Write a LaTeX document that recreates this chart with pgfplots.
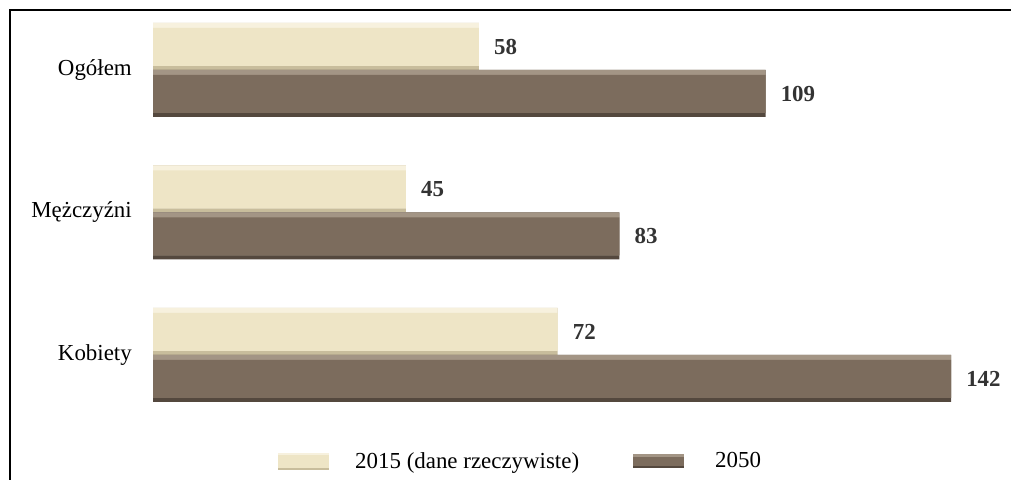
\documentclass[border=0pt]{standalone}
\usepackage{pgfplots}
\pgfplotsset{compat=1.18}
\usepackage{fontspec}
\setmainfont{Liberation Serif}

\definecolor{lightTop}{RGB}{247,241,222}
\definecolor{lightMid}{RGB}{238,229,198}
\definecolor{lightBot}{RGB}{200,189,156}
\definecolor{darkTop}{RGB}{163,149,133}
\definecolor{darkMid}{RGB}{124,108,93}
\definecolor{darkBot}{RGB}{84,72,62}

\newcommand{\bigfont}{\fontsize{23}{27}\selectfont}
% legend swatches with the same bevel bands as the bars
\pgfplotsset{
  lightswatch/.style={legend image code/.code={
    \fill[lightBot] (0bp,-8.5bp) rectangle (51bp,8.5bp);
    \fill[lightTop] (0bp,-6.5bp) rectangle (51bp,8.5bp);
    \fill[lightMid] (0bp,-6.5bp) rectangle (51bp,6bp);}},
  darkswatch/.style={legend image code/.code={
    \fill[darkBot] (0bp,-7bp) rectangle (51bp,7bp);
    \fill[darkTop] (0bp,-5bp) rectangle (51bp,7bp);
    \fill[darkMid] (0bp,-5bp) rectangle (51bp,4.5bp);}},
}

\pgfplotstableread{
y  cur  proj
2  58   109
1  45   83
0  72   142
}\datatable

\begin{document}
\begin{tikzpicture}
\useasboundingbox (0,0) rectangle (1011bp,480bp);
\draw[line width=1.6bp] (10bp,0) -- (10bp,470bp) -- (1011bp,470bp);
\begin{axis}[
  at={(153bp,53.75bp)}, anchor=south west,
  x=5.62bp, y=142.5bp,
  xmin=0, xmax=150, ymin=-0.5, ymax=2.5,
  enlargelimits=false,
  xbar,
  hide x axis,
  axis line style={draw=none},
  major tick length=0pt,
  ytick={0,1,2},
  yticklabels={Kobiety,Mężczyźni,Ogółem},
  yticklabel style={font=\bigfont, inner sep=0pt, xshift=-21bp},
  nodes near coords align={horizontal},
  every node near coord/.append style={font=\bigfont\bfseries, text=black!80, inner sep=0pt, xshift=15bp},
  /pgf/number format/assume math mode=true,
  legend columns=-1,
  legend style={at={(0.1483,-0.0813)}, anchor=west, draw=none, fill=none,
    inner sep=0pt, font=\bigfont, nodes={inner sep=0pt},
    /tikz/every odd column/.append style={column sep=26bp},
    /tikz/every even column/.append style={column sep=54bp}},
]
% 2015: base bar + bevel bands
\addplot[fill=lightBot, draw=none, bar width=47bp, bar shift=23.5bp, nodes near coords, lightswatch]
  table[x=cur, y=y] {\datatable};
\addplot[forget plot, fill=lightTop, draw=none, bar width=43bp, bar shift=25.5bp]
  table[x=cur, y=y] {\datatable};
\addplot[forget plot, fill=lightMid, draw=none, bar width=38bp, bar shift=23bp]
  table[x=cur, y=y] {\datatable};
% 2050
\addplot[fill=darkBot, draw=none, bar width=47bp, bar shift=-23.5bp, nodes near coords, darkswatch]
  table[x=proj, y=y] {\datatable};
\addplot[forget plot, fill=darkTop, draw=none, bar width=43bp, bar shift=-21.5bp]
  table[x=proj, y=y] {\datatable};
\addplot[forget plot, fill=darkMid, draw=none, bar width=38bp, bar shift=-24bp]
  table[x=proj, y=y] {\datatable};
\legend{2015 (dane rzeczywiste), \hspace*{5bp}2050}
\end{axis}
\end{tikzpicture}
\end{document}
